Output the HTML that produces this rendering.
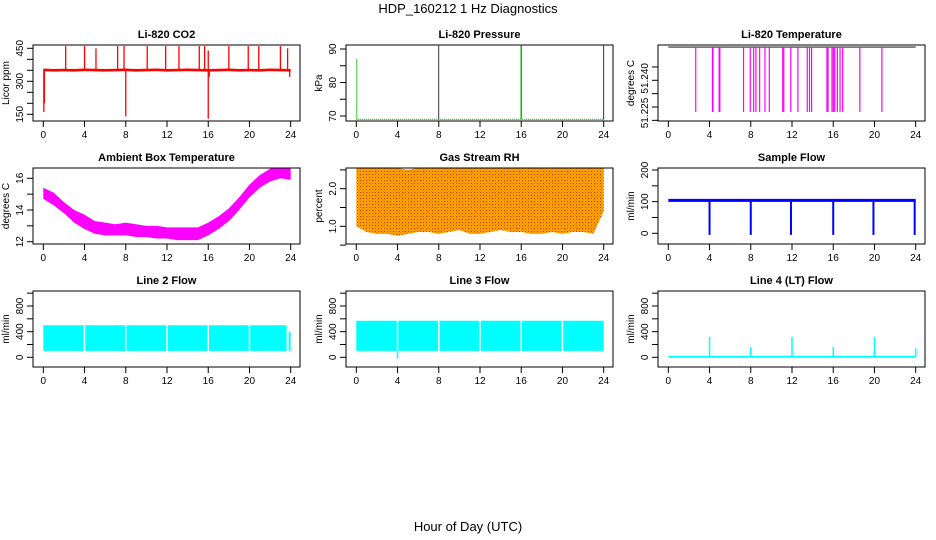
<!DOCTYPE html>
<html><head><meta charset="utf-8"><style>
html,body{margin:0;padding:0;background:#fff;}
svg{display:block;font-family:"Liberation Sans",Arial,sans-serif;}
</style></head><body>
<svg id="c" width="936" height="540" viewBox="0 0 936 540" xmlns="http://www.w3.org/2000/svg">
<defs>
<pattern id="rhpat" width="3" height="3" patternUnits="userSpaceOnUse"><rect width="3" height="3" fill="#ffb400"/><rect width="1" height="1" fill="#e02000"/><rect x="1.5" y="1.5" width="1" height="1" fill="#ff2000"/></pattern>
</defs>
<text x="468" y="13" text-anchor="middle" font-size="13">HDP_160212  1 Hz Diagnostics</text>
<text x="468" y="531" text-anchor="middle" font-size="13">Hour of Day (UTC)</text>
<g id="g"></g>
</svg>
<script>
// ---- data ----
const hourTicks = [0,4,8,12,16,20,24];
const co2Base = [352,350,351,350,352,351,350,351,352,350,351,352,350,351,352,351,350,351,352,350,351,350,352,351,350];
const co2UpHours = [2.17,4.0,5.11,7.21,7.83,10.08,11.87,13.16,15.13,15.65,16.0,18.0,19.88,20.9,23.0,23.7];
const co2UpValues = [460,460,450,460,460,460,460,460,460,460,440,460,460,460,460,450];
const co2DownHours = [0.05,0.1,8.0,16.0,16.1,23.9];
const co2DownValues = [160,200,140,130,320,320];
const pressBase = [69,69,69,69,69,69,69,69,69,69,69,69,69,69,69,69,69,69,69,69,69,69,69,69,69];
const pressSpikeHours = [0.05,8.0,16.0,24.0];
const pressSpikeValues = [87,91,91,91];
const tempTop = 51.2585;
const tempDropHours = [2.66,4.28,4.33,4.93,5.0,7.30,7.95,8.28,8.50,8.86,9.38,9.80,11.1,11.2,11.88,12.57,13.48,13.70,13.90,15.39,15.49,15.88,16.01,16.14,16.40,16.66,16.92,18.58,20.72];
const tempDropValue = 51.2222;
const ambHours = [0,1,2,3,4,5,6,7,8,9,10,11,12,13,14,15,16,17,18,19,20,21,22,23,24];
const ambHigh = [15.4,15.1,14.5,14.0,13.7,13.3,13.2,13.1,13.2,13.1,13.0,13.0,12.9,12.9,12.9,12.9,13.2,13.6,14.1,14.8,15.6,16.2,16.6,16.8,16.8];
const ambLow = [14.7,14.3,13.8,13.2,12.8,12.5,12.4,12.4,12.4,12.3,12.3,12.2,12.2,12.1,12.1,12.1,12.4,12.8,13.3,14.0,14.8,15.4,15.8,16.0,15.9];
const rhHours = [0,1,2,3,4,5,6,7,8,9,10,11,12,13,14,15,16,17,18,19,20,21,22,23,24];
const rhHigh = [2.55,2.6,2.6,2.55,2.55,2.5,2.55,2.55,2.6,2.55,2.55,2.55,2.55,2.55,2.55,2.55,2.6,2.55,2.6,2.6,2.55,2.6,2.65,2.6,2.55];
const rhLow = [1.0,0.85,0.8,0.8,0.75,0.8,0.85,0.85,0.8,0.85,0.9,0.8,0.8,0.85,0.9,0.85,0.85,0.8,0.8,0.85,0.8,0.85,0.85,0.8,1.4];
const sampleBase = 104;
const sampleDropHours = [4.0,8.0,11.9,16.0,19.9,23.9];
const sampleDropValues = [-5,-5,-5,-5,-5,-5];
const line2High = 500, line2Low = 100;
const line2GapHours = [4.0,8.0,12.0,16.0,20.0];
const line3High = 570, line3Low = 100;
const line3GapHours = [4.0,8.0,12.0,16.0,20.0];
const line4Base = 8;
const line4SpikeHours = [4.0,8.0,12.0,16.0,20.0,24.0];
const line4SpikeValues = [320,160,320,160,320,140];

// ---- layout ----
const NS="http://www.w3.org/2000/svg";
const G=document.getElementById('g');
function el(tag,attrs,parent){const e=document.createElementNS(NS,tag);for(const k in attrs)e.setAttribute(k,attrs[k]);(parent||G).appendChild(e);return e;}
const colLeft=[33,346,658], rowTop=[45,168,291], BW=267, BH=76;
function mkX(c){const x0=colLeft[c]+10.3, x1=colLeft[c]+257.7;return h=>x0+(h/24)*(x1-x0);}
function mkY(v1,p1,v2,p2){return v=>p1+(v-v1)*(p2-p1)/(v2-v1);}

function panel(c,r,title,ylab,yScale,yticks,ylabels,name,labelShift){
  const g=el('g',{});
  
  
  const L=colLeft[c],T=rowTop[r];
  const clipId='clip'+c+r;
  const cp=el('clipPath',{id:clipId},g);el('rect',{x:L,y:T,width:BW,height:BH},cp);
  const t=el('text',{x:L+BW/2,y:T-7,'text-anchor':'middle','font-size':'11','font-weight':'bold'},g);t.textContent=title;
  
  
  const yl=el('text',{x:0,y:0,'text-anchor':'middle','font-size':'10',transform:`translate(${L-24},${T+BH/2}) rotate(-90)`},g);yl.textContent=ylab;
  
  
  const X=mkX(c);
  const xa=el('g',{stroke:'#000','stroke-width':1},g);
  
  
  hourTicks.forEach(h=>{el('line',{x1:X(h),x2:X(h),y1:T+BH,y2:T+BH+6},xa);
    const tl=el('text',{x:X(h),y:T+BH+17,'text-anchor':'middle','font-size':'10',stroke:'none'},xa);tl.textContent=h;});
  const ya=el('g',{stroke:'#000','stroke-width':1},g);
  
  
  yticks.forEach((v,i)=>{const y=yScale(v);el('line',{x1:L-6,x2:L,y1:y,y2:y},ya);
    if(ylabels[i]){const sh=labelShift?labelShift[i]:0;const tl=el('text',{x:0,y:0,'text-anchor':'middle','font-size':'10',stroke:'none',transform:`translate(${L-10},${y+sh}) rotate(-90)`},ya);tl.textContent=ylabels[i];}});
  const data=el('g',{'clip-path':`url(#${clipId})`},g);
  
  
  el('rect',{x:L,y:T,width:BW,height:BH,fill:'none',stroke:'#000','stroke-width':1},g);
  return {g:data,X,Y:yScale,L,T};
}
function vline(p,h,v1,v2,color,w){el('line',{x1:p.X(h),x2:p.X(h),y1:p.Y(v1),y2:p.Y(v2),stroke:color,'stroke-width':w||1},p.g);}
function band(p,hours,hi,lo,fill){let d='';hours.forEach((h,i)=>{d+=(i?'L':'M')+p.X(h)+','+p.Y(hi[i]);});
  for(let i=hours.length-1;i>=0;i--)d+='L'+p.X(hours[i])+','+p.Y(lo[i]);el('path',{d:d+'Z',fill:fill},p.g);}

// CO2
let p=panel(0,0,'Li-820 CO2','Licor ppm',mkY(150,114.3,450,48.3),[150,200,250,300,350,400,450],['150','','','300','','','450'],'co2');
{const hrs=co2Base.map((_,i)=>i);band(p,hrs,co2Base.map(v=>v+6),co2Base.map(v=>v-6),'#ff0000');}
co2UpHours.forEach((h,i)=>vline(p,h,350,co2UpValues[i],'#ff0000',1.3));
co2DownHours.forEach((h,i)=>vline(p,h,350,co2DownValues[i],'#ff0000',1.3));
// Pressure
p=panel(1,0,'Li-820 Pressure','kPa',mkY(70,116,90,49),[70,75,80,85,90],['70','','80','','90'],'pressure');
{const hrs=pressBase.map((_,i)=>i);let d='';hrs.forEach((h,i)=>d+=(i?'L':'M')+p.X(h)+','+p.Y(pressBase[i]));el('path',{d,stroke:'#00c000','stroke-width':1.2,'stroke-dasharray':'1 1',fill:'none'},p.g);}
pressSpikeHours.forEach((h,i)=>vline(p,h,69,pressSpikeValues[i],i==2?'#00c000':(i==0?'#00c000':'#000'),i==2?1.5:0.8));
// Temperature
p=panel(2,0,'Li-820 Temperature','degrees C',mkY(51.225,107,51.240,80.3),[51.2175,51.225,51.2325,51.240,51.2475],['','51.225','','51.240',''],'li820-temperature',[0,6,0,-2,0]);
el('line',{x1:p.X(0),x2:p.X(24),y1:p.Y(tempTop),y2:p.Y(tempTop),stroke:'#ff00ff','stroke-width':1},p.g);
el('line',{x1:p.X(0),x2:p.X(24),y1:p.Y(tempTop)-0.7,y2:p.Y(tempTop)-0.7,stroke:'#333','stroke-width':0.5},p.g);
tempDropHours.forEach(h=>vline(p,h,tempTop,tempDropValue,'#ff00ff',1.2));
// Ambient
p=panel(0,1,'Ambient Box Temperature','degrees C',mkY(12,241.7,16,178.3),[12,13,14,15,16],['12','','14','','16'],'ambient-temperature');
band(p,ambHours,ambHigh,ambLow,'#ff00ff');
// RH
p=panel(1,1,'Gas Stream RH','percent',mkY(1,226.3,2,188.7),[0.5,1.0,1.5,2.0,2.5],['','1.0','','2.0',''],'gas-stream-rh');
band(p,rhHours,rhHigh,rhLow,'url(#rhpat)');
// Sample flow
p=panel(2,1,'Sample Flow','ml/min',mkY(0,233.3,200,170),[0,50,100,150,200],['0','','100','','200'],'sample-flow');
el('line',{x1:p.X(0),x2:p.X(24),y1:p.Y(sampleBase),y2:p.Y(sampleBase),stroke:'#0000ff','stroke-width':3},p.g);
sampleDropHours.forEach((h,i)=>vline(p,h,sampleBase,sampleDropValues[i],'#0000ff',2));
// Line 2
p=panel(0,2,'Line 2 Flow','ml/min',mkY(0,357.3,800,306),[0,200,400,600,800,1000],['0','','400','','800',''],'line2-flow');
el('rect',{x:p.X(0),y:p.Y(line2High),width:p.X(23.6)-p.X(0),height:p.Y(line2Low)-p.Y(line2High),fill:'#00ffff'},p.g);
el('rect',{x:p.X(23.8),y:p.Y(400),width:2,height:p.Y(line2Low)-p.Y(400),fill:'#00ffff'},p.g);
line2GapHours.forEach(h=>vline(p,h,line2High,line2Low,'#fff',1.5));
// Line 3
p=panel(1,2,'Line 3 Flow','ml/min',mkY(0,357.3,800,306),[0,200,400,600,800,1000],['0','','400','','800',''],'line3-flow');
el('rect',{x:p.X(0),y:p.Y(line3High),width:p.X(24)-p.X(0),height:p.Y(line3Low)-p.Y(line3High),fill:'#00ffff'},p.g);
line3GapHours.forEach(h=>vline(p,h,line3High,line3Low,'#fff',1.5));
vline(p,4.0,line3Low,-20,'#00ffff',1.5);
// Line 4
p=panel(2,2,'Line 4 (LT) Flow','ml/min',mkY(0,357.3,800,306),[0,200,400,600,800,1000],['0','','400','','800',''],'line4-flow');
el('line',{x1:p.X(0),x2:p.X(24),y1:p.Y(line4Base),y2:p.Y(line4Base),stroke:'#00ffff','stroke-width':2},p.g);
line4SpikeHours.forEach((h,i)=>vline(p,h,line4Base,line4SpikeValues[i],'#00ffff',1.5));
</script>
</body></html>
